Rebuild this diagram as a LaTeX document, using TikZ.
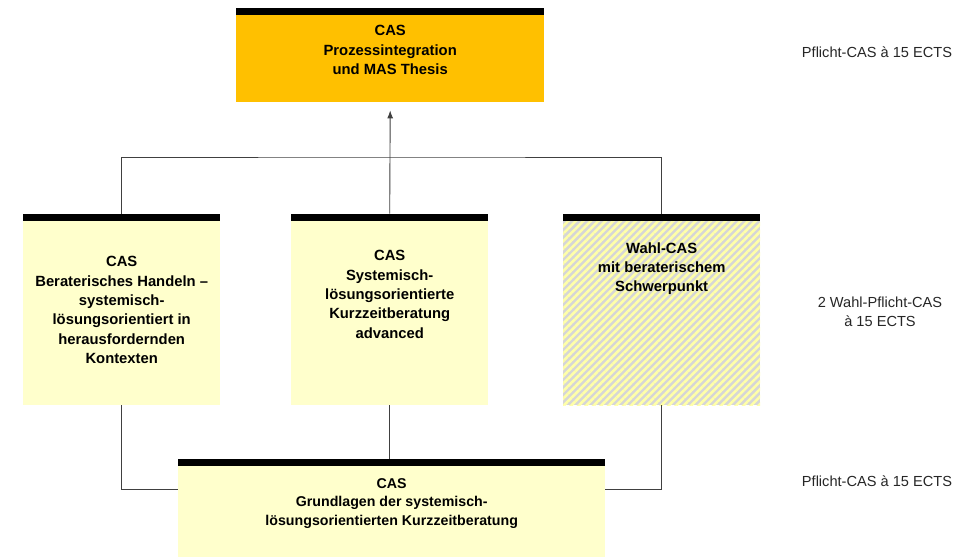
\documentclass[tikz,border=0pt]{standalone}
\usepackage{fontspec}
\setmainfont{Liberation Sans}
\usetikzlibrary{arrows.meta, positioning, patterns.meta}

\definecolor{casorange}{HTML}{FFC000}
\definecolor{caslight}{HTML}{FFFFCC}
\definecolor{casgrey}{HTML}{D6D6D6}
\definecolor{casstripe}{HTML}{FFFFA8}
\definecolor{linegrey}{HTML}{404040}

\begin{document}
\begin{tikzpicture}[x=1pt, y=-1pt,
    casbox/.style={rectangle, inner sep=0pt, anchor=north west, fill=caslight},
    castext/.style={anchor=north, align=center, font=\fontsize{14.8}{19.3}\selectfont\bfseries},
    sidetext/.style={align=center, font=\fontsize{14.6}{19.3}\selectfont, text=black!85},
    bar/.style={fill=black},
    link/.style={draw=linegrey, line width=0.9pt},
    arrow/.style={link, -{Latex[length=8pt, width=6pt]}}]
    \useasboundingbox (0,0) rectangle (973,557);

    % Boxes
    \node (thesis) [casbox, fill=casorange, minimum width=308pt, minimum height=87pt] at (236,15) {};
    \node (handeln) [casbox, minimum width=197pt, minimum height=184pt] at (23,221) {};
    \node (kurzzeit) [casbox, minimum width=197pt, minimum height=184pt] at (291,221) {};
    \node (wahl) [casbox, fill=casgrey, minimum width=197pt, minimum height=184pt,
        postaction={pattern={Lines[angle=45, distance=5.3pt, line width=2.6pt]}, pattern color=casstripe}] at (563,221) {};
    \node (grund) [casbox, minimum width=427pt, minimum height=91pt] at (178,466) {};

    % Black bars on top
    \foreach \b in {thesis, handeln, kurzzeit, wahl, grund}
        \fill[bar] (\b.north west) rectangle ([yshift=7.5pt]\b.north east);

    % Texts
    \node (thesistext) [castext] at ([yshift=-7pt]thesis.north) {CAS\\Prozessintegration\\und MAS Thesis};
    \node (handelntext) [castext] at ([yshift=-32pt]handeln.north) {CAS\\Beraterisches Handeln –\\systemisch-\\lösungsorientiert in\\herausfordernden\\Kontexten};
    \node (kurzzeittext) [castext] at ([yshift=-26pt]kurzzeit.north) {CAS\\Systemisch-\\lösungsorientierte\\Kurzzeitberatung\\advanced};
    \node (wahltext) [castext] at ([yshift=-18pt]wahl.north) {Wahl-CAS\\mit beraterischem\\Schwerpunkt};
    \node (grundtext) [castext, font=\fontsize{14.2}{18.3}\selectfont\bfseries] at ([yshift=-9pt]grund.north) {CAS\\Grundlagen der systemisch-\\lösungsorientierten Kurzzeitberatung};

    % Side labels
    \node (pflichtoben) [sidetext] at (877,52) {Pflicht-CAS à 15 ECTS};
    \node (wahlpflicht) [sidetext] at (880,312) {2 Wahl-Pflicht-CAS\\à 15 ECTS};
    \node (pflichtunten) [sidetext] at (877,481) {Pflicht-CAS à 15 ECTS};

    % Connectors
    \coordinate (split) at (392,157);
    \draw[arrow] ([yshift=7.5pt]kurzzeit.north) -- ([yshift=-8pt]thesis.south);
    \draw[link] ([yshift=7.5pt]handeln.north) |- (split) -| ([yshift=7.5pt]wahl.north);
    \draw[link] (handeln.south) |- (grund.west |- 0,489);
    \draw[link] (kurzzeit.south) -- ([yshift=7.5pt]grund.north -| kurzzeit.south);
    \draw[link] (wahl.south) |- (grund.east |- 0,489);
\end{tikzpicture}
\end{document}
